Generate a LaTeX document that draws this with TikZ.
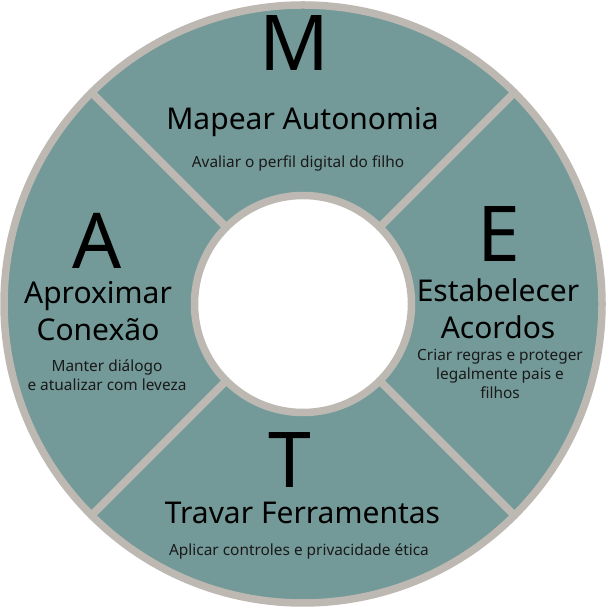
\documentclass[tikz,border=0pt]{standalone}
\usepackage{fontspec}
\setmainfont{Noto Sans}
\usepackage{tikz}
\usetikzlibrary{positioning}
\usepackage{xcolor}
\definecolor{metTeal}{HTML}{739A99}
\definecolor{metGray}{HTML}{BDB9B2}
\tikzset{
  % Ring sector
  sector/.style={
    fill=metTeal,
    draw=metGray,
    line width=7.5pt,
    line join=round
  },
  % Big initial letter
  initial/.style={
    anchor=base,
    inner sep=0pt,
    font=\fontsize{77}{80}\selectfont,
    text=black
  },
  % Sector title
  titletext/.style={
    anchor=base,
    inner sep=0pt,
    font=\fontsize{30}{36}\selectfont,
    text=black
  },
  % Sector description
  desctext/.style={
    anchor=base,
    inner sep=0pt,
    font=\fontsize{15.4}{19}\selectfont,
    text=black!90
  }
}
\begin{document}
\begin{tikzpicture}[x=1pt, y=1pt]
\useasboundingbox (0,0) rectangle (606,609);

%% === Ring ===
\begin{scope}[shift={(303,305)}]
  \foreach \a in {45,135,225,315}
    \draw[sector] (\a:108.5) -- (\a:299)
      arc[start angle=\a, end angle=\a+90, radius=299]
      -- (\a+90:108.5)
      arc[start angle=\a+90, end angle=\a, radius=108.5] -- cycle;
\end{scope}

%% === M: top ===
\node[initial] (m) at (294,538) {M};
\node[titletext] (mtitle) at (302.5,479) {Mapear Autonomia};
\node[desctext] (mdesc) at (298,441) {Avaliar o perfil digital do filho};

%% === E: right ===
\node[initial] (e) at (499,347) {E};
\node[titletext] (etitle1) at (498,307) {Estabelecer};
\node[titletext] (etitle2) at (498,270) {Acordos};
\node[desctext] (edesc1) at (500,248) {Criar regras e proteger};
\node[desctext] (edesc2) at (500,229) {legalmente pais e};
\node[desctext] (edesc3) at (500,210) {filhos};

%% === T: bottom ===
\node[initial] (t) at (290,121) {T};
\node[titletext] (ttitle) at (302.5,85) {Travar Ferramentas};
\node[desctext] (tdesc) at (299,53) {Aplicar controles e privacidade ética};

%% === A: left ===
\node[initial] (a) at (97,340) {A};
\node[titletext] (atitle1) at (98,305) {Aproximar};
\node[titletext] (atitle2) at (98,268) {Conexão};
\node[desctext] (adesc1) at (107,237) {Manter diálogo};
\node[desctext] (adesc2) at (107,218) {e atualizar com leveza};

\end{tikzpicture}
\end{document}
